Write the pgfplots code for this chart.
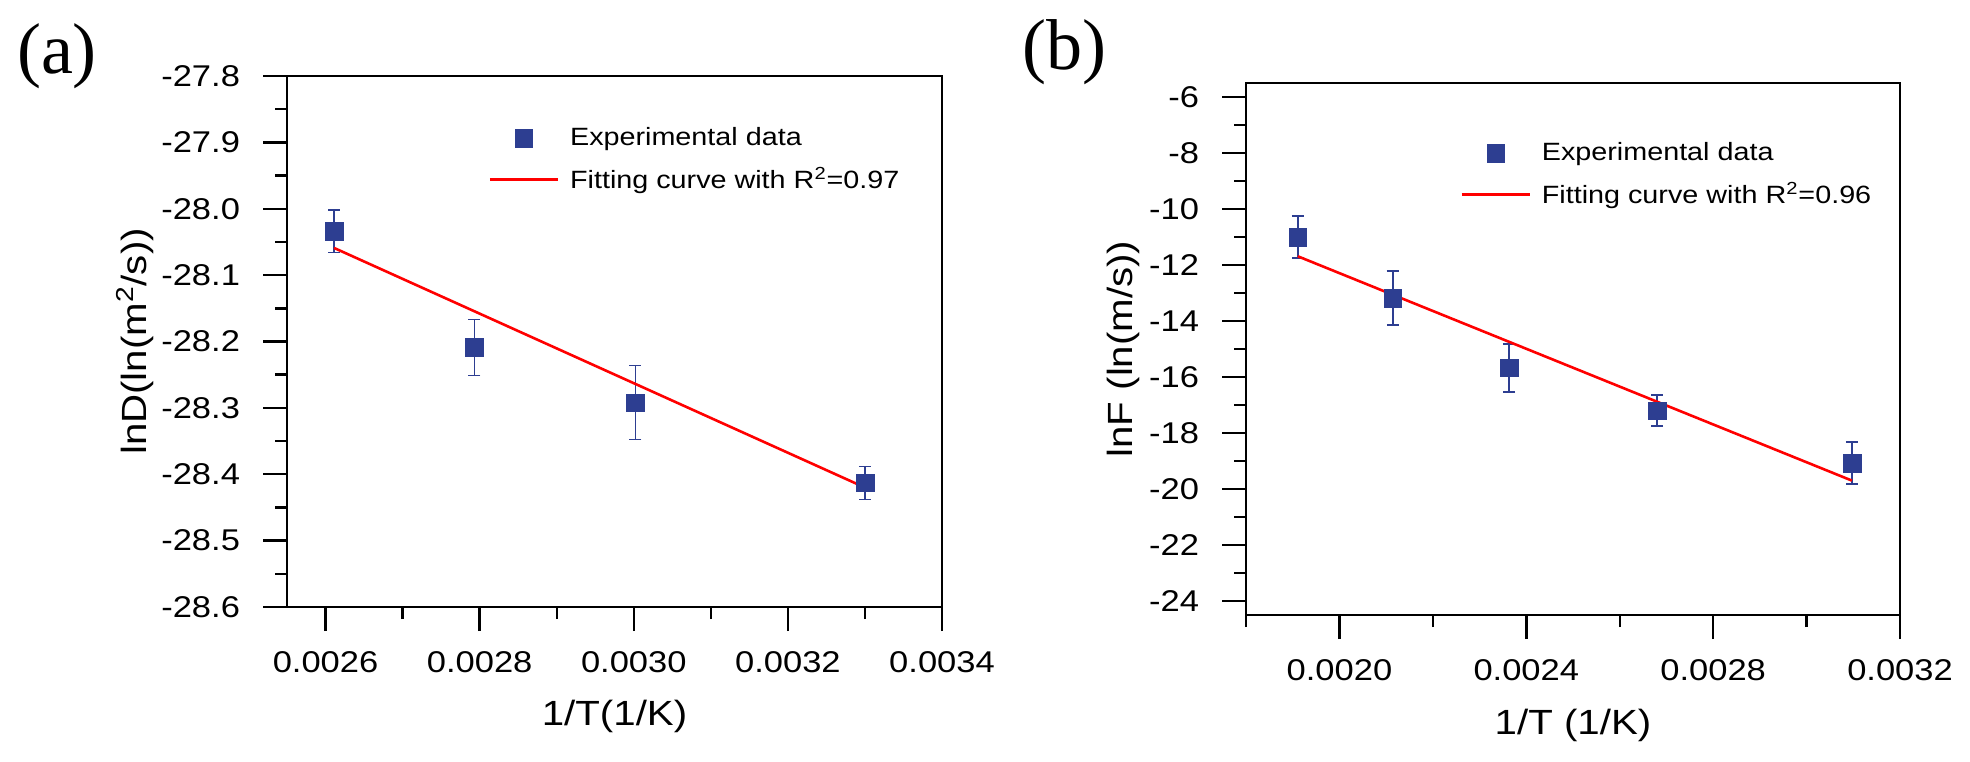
\documentclass[border=0pt]{standalone}
\usepackage{fontspec}
\setmainfont{Liberation Sans}[FakeStretch=1.15]
\newfontfamily\panelfont{Liberation Serif}
\usepackage{pgfplots}
\usepackage{pgfplotstable}
\pgfplotsset{compat=1.18}
\definecolor{mblue}{RGB}{45,62,145}
\definecolor{fitred}{RGB}{255,0,0}

\pgfplotstableread{
x        y        e
0.002611 -28.034  0.032
0.002793 -28.209  0.042
0.003002 -28.292  0.056
0.003300 -28.413  0.025
}\dataA
\pgfplotstableread{
x        y
0.002611 -28.059
0.003300 -28.420
}\fitA
\pgfplotstableread{
x        y        e
0.001911 -11.00  0.75
0.002114 -13.18  0.97
0.002363 -15.67  0.86
0.002680 -17.20  0.55
0.003097 -19.07  0.76
}\dataB
\pgfplotstableread{
x        y
0.001911 -11.69
0.003097 -19.70
}\fitB

\newcommand\ticksize{\fontsize{15bp}{18bp}\selectfont}
\newcommand\legsize{\fontsize{12.5bp}{15bp}\selectfont}
\newcommand\labsize{\fontsize{17.5bp}{21bp}\selectfont}

\pgfplotsset{
  mystyle/.style={
    scale only axis,
    axis line style={line width=1.2bp},
    tick align=outside,
    xtick pos=left, ytick pos=left,
    major tick length=12bp, minor tick length=6bp,
    every tick/.style={line width=1.2bp, black},
    tick label style={font=\ticksize},
    xticklabel style={yshift=-7bp},
    yticklabel style={xshift=-8bp},
    scaled ticks=false,
    label style={font=\labsize},
    legend cell align=left,
    legend style={draw=none, fill=none, inner sep=0pt, row sep=5.5bp, column sep=3.5bp,
      font=\legsize},
  },
  expdata/.style={
    only marks, mark=square*, mark size=4.4bp,
    mark options={fill=mblue, draw=mblue, line width=0.2bp},
    error bars/y dir=both, error bars/y explicit,
    error bars/error bar style={line width=#1, color=mblue},
    error bars/error mark options={rotate=90, mark size=3bp, line width=#1, color=mblue},
  },
  markimg/.style={legend image code/.code={
    \draw[mark repeat=2,mark phase=2,##1] plot coordinates {(0bp,0bp) (17bp,0bp) (34bp,0bp)};}},
  lineimg/.style={legend image code/.code={
    \draw[##1] (0bp,0bp) -- (34bp,0bp);}},
}

\begin{document}
\begin{tikzpicture}
\path[use as bounding box] (0,0) rectangle (985bp,381bp);
\node[font=\panelfont\fontsize{36bp}{40bp}\selectfont] at (28.5bp,353bp) {(a)};
\node[font=\panelfont\fontsize{36bp}{40bp}\selectfont] at (532bp,355bp) {(b)};

\begin{axis}[mystyle,
  at={(143.5bp,77.5bp)}, anchor=south west,
  width=327.5bp, height=265.5bp,
  xmin=0.00255, xmax=0.0034, ymin=-28.6, ymax=-27.8,
  xtick={0.0026,0.0028,0.0030,0.0032,0.0034},
  xticklabels={0.0026,0.0028,0.0030,0.0032,0.0034},
  minor xtick={0.0027,0.0029,0.0031,0.0033},
  ytick={-28.6,-28.5,-28.4,-28.3,-28.2,-28.1,-28.0,-27.9,-27.8},
  yticklabels={-28.6,-28.5,-28.4,-28.3,-28.2,-28.1,-28.0,-27.9,-27.8},
  minor ytick={-28.55,-28.45,-28.35,-28.25,-28.15,-28.05,-27.95,-27.85},
  xlabel={1/T(1/K)},
  ylabel={lnD(ln(m\textsuperscript{2}/s))},
  xlabel style={at={(axis description cs:0.5,-0.207)}, anchor=center},
  ylabel style={at={(axis description cs:-0.232,0.5)}, anchor=center},
  legend style={at={(axis description cs:0.307,0.911)}, anchor=north west},
]
\addplot+[markimg, expdata=0.7bp] table[x=x, y=y, y error=e] {\dataA};
\addlegendentry{Experimental data}
\addplot[color=fitred, line width=1.3bp, lineimg] table[x=x, y=y] {\fitA};
\addlegendentry{Fitting curve with R\textsuperscript{2}=0.97}
\end{axis}

\begin{axis}[mystyle,
  at={(623bp,73.5bp)}, anchor=south west,
  width=327bp, height=266bp,
  xmin=0.0018, xmax=0.0032, ymin=-24.5, ymax=-5.5,
  xtick={0.0020,0.0024,0.0028,0.0032},
  xticklabels={0.0020,0.0024,0.0028,0.0032},
  minor xtick={0.0018,0.0022,0.0026,0.0030},
  ytick={-24,-22,-20,-18,-16,-14,-12,-10,-8,-6},
  yticklabels={-24,-22,-20,-18,-16,-14,-12,-10,-8,-6},
  minor ytick={-23,-21,-19,-17,-15,-13,-11,-9,-7},
  xlabel={1/T (1/K)},
  ylabel={lnF (ln(m/s))},
  xlabel style={at={(axis description cs:0.5,-0.207)}, anchor=center},
  ylabel style={at={(axis description cs:-0.188,0.5)}, anchor=center},
  legend style={at={(axis description cs:0.327,0.8965)}, anchor=north west},
]
\addplot+[markimg, expdata=1bp] table[x=x, y=y, y error=e] {\dataB};
\addlegendentry{Experimental data}
\addplot[color=fitred, line width=1.3bp, lineimg] table[x=x, y=y] {\fitB};
\addlegendentry{Fitting curve with R\textsuperscript{2}=0.96}
\end{axis}
\end{tikzpicture}
\end{document}
